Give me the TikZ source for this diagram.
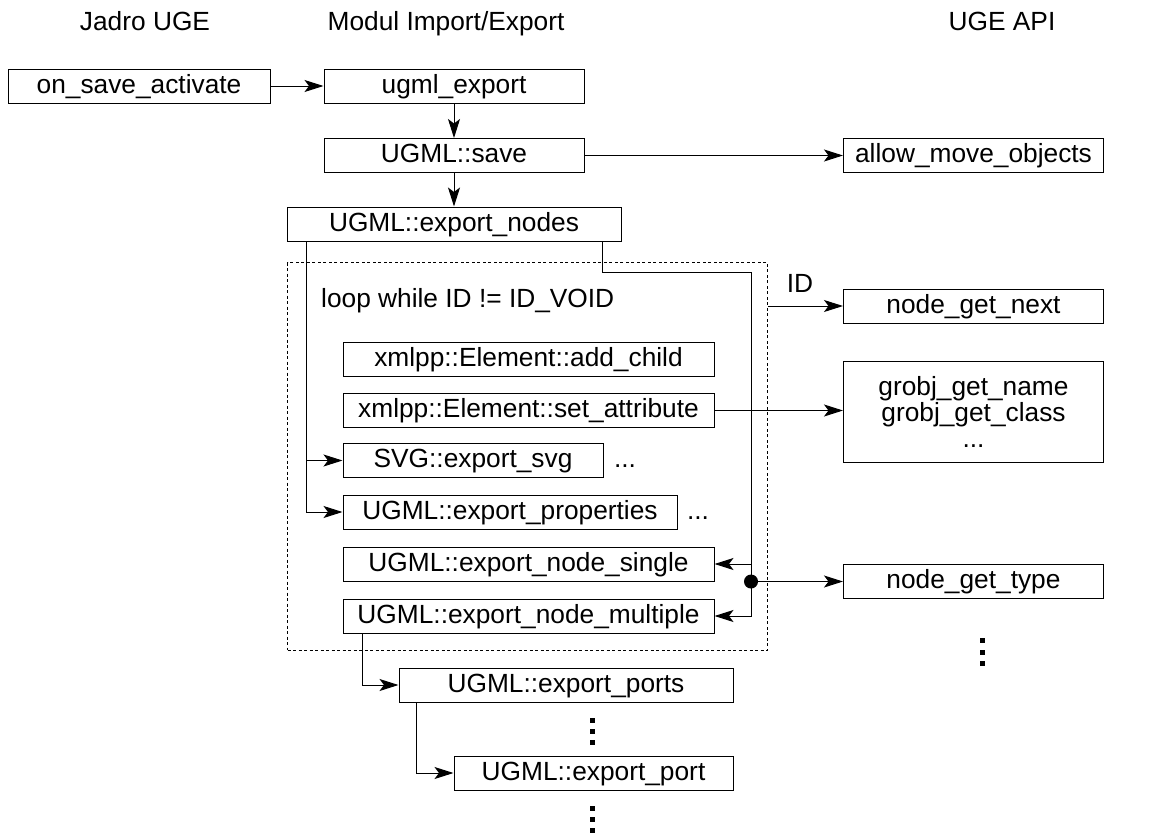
\documentclass[tikz,border=0pt]{standalone}
\usepackage{fontspec}
\setmainfont{Liberation Sans}
\usetikzlibrary{arrows.meta}
\tikzset{
  txt/.style={font=\fontsize{26.3}{26}\selectfont},
  box/.style={txt, draw, line width=1pt, inner sep=0pt, minimum height=34pt, text height=18pt, text depth=4pt},
  lbl/.style={txt, inner sep=0pt, text height=18pt, text depth=4pt},
  conn/.style={line width=1pt},
  arr/.style={conn, -{Stealth[length=19pt,width=12pt,inset=4.5pt]}},
  loopframe/.style={draw, line width=0.8pt, dash pattern=on 3pt off 2.5pt, inner sep=0pt},
  vdot/.style={fill=black}
}
\begin{document}
\begin{tikzpicture}[x=1pt,y=-1pt]
\useasboundingbox (0,0) rectangle (1157,833);
% headers
\node[lbl] (h1) at (145,23) {Jadro UGE};
\node[lbl] (h2) at (446,23) {Modul Import/Export};
\node[lbl] (h3) at (1002,23) {UGE API};
% frame
\node[loopframe, minimum width=480pt, minimum height=387.5pt] (frame) at (527.5,456.25) {};
% boxes
\node[box, minimum width=262pt] (onsave) at (139,86) {on\_save\_activate};
\node[box, minimum width=260pt] (ugmlexport) at (454,86) {ugml\_export};
\node[box, minimum width=260pt] (save) at (454,155.5) {UGML::save};
\node[box, minimum width=260pt] (allow) at (973.5,155.5) {allow\_move\_objects};
\node[box, minimum width=334pt] (exportnodes) at (454,224) {UGML::export\_nodes};
\node[lbl, anchor=west] (loop) at (321,300) {loop while ID != ID\_VOID};
\node[box, minimum width=371pt] (addchild) at (528.5,359) {xmlpp::Element::add\_child};
\node[box, minimum width=371pt] (setattr) at (528.5,410.5) {xmlpp::Element::set\_attribute};
\node[box, minimum width=260pt] (svg) at (473,460.5) {SVG::export\_svg};
\node[lbl] (svgdots) at (625,460.5) {...};
\node[box, minimum width=334pt] (props) at (510,512) {UGML::export\_properties};
\node[lbl] (propdots) at (698,512) {...};
\node[box, minimum width=371pt] (single) at (528.5,564) {UGML::export\_node\_single};
\node[box, minimum width=371pt] (multiple) at (528.5,616) {UGML::export\_node\_multiple};
\node[lbl] (idl) at (800,285) {ID};
\node[box, minimum width=260pt] (nextbox) at (973.5,306) {node\_get\_next};
\node[txt, draw, line width=1pt, align=center, inner sep=0pt, minimum width=260pt, minimum height=101.5pt] (grobj) at (973.5,412) {grobj\_get\_name\\grobj\_get\_class\\...};
\node[box, minimum width=260pt] (typebox) at (973.5,581.5) {node\_get\_type};
\node[box, minimum width=334pt] (ports) at (566,685) {UGML::export\_ports};
\node[box, minimum width=279pt] (port) at (593.5,773) {UGML::export\_port};
% helper coordinates
\coordinate (lx) at (306,0);
\coordinate (nx) at (602,0);
\coordinate (rx) at (751,0);
\coordinate (ry) at (0,272);
\coordinate (mx) at (362,0);
\coordinate (px) at (416,0);
% connectors
\draw[arr] (onsave.east) -- (ugmlexport.west);
\draw[arr] (ugmlexport.south) -- (save.north);
\draw[arr] (save.east) -- (allow.west);
\draw[arr] (save.south) -- (exportnodes.north);
\draw[arr] (exportnodes.south -| lx) |- (props.west);
\draw[arr] (svg.west -| lx) -- (svg.west);
\draw[arr] (exportnodes.south -| nx) -- (nx |- ry) -- (rx |- ry) |- (multiple.east);
\draw[arr] (single.east -| rx) -- (single.east);
\fill (rx |- typebox.west) circle (7pt);
\draw[arr] (rx |- typebox.west) -- (typebox.west);
\draw[arr] (frame.east |- nextbox.west) -- (nextbox.west);
\draw[arr] (setattr.east) -- (setattr.east -| grobj.west);
\draw[arr] (multiple.south -| mx) |- (ports.west);
\draw[arr] (ports.south -| px) |- (port.west);
% vertical ellipses
\foreach \y in {720,731,742,808,819,830} \fill[vdot] (589.5,\y-2.5) rectangle (594.5,\y+2.5);
\foreach \y in {640,652,663} \fill[vdot] (979.5,\y-2.5) rectangle (984.5,\y+2.5);
\end{tikzpicture}
\end{document}
